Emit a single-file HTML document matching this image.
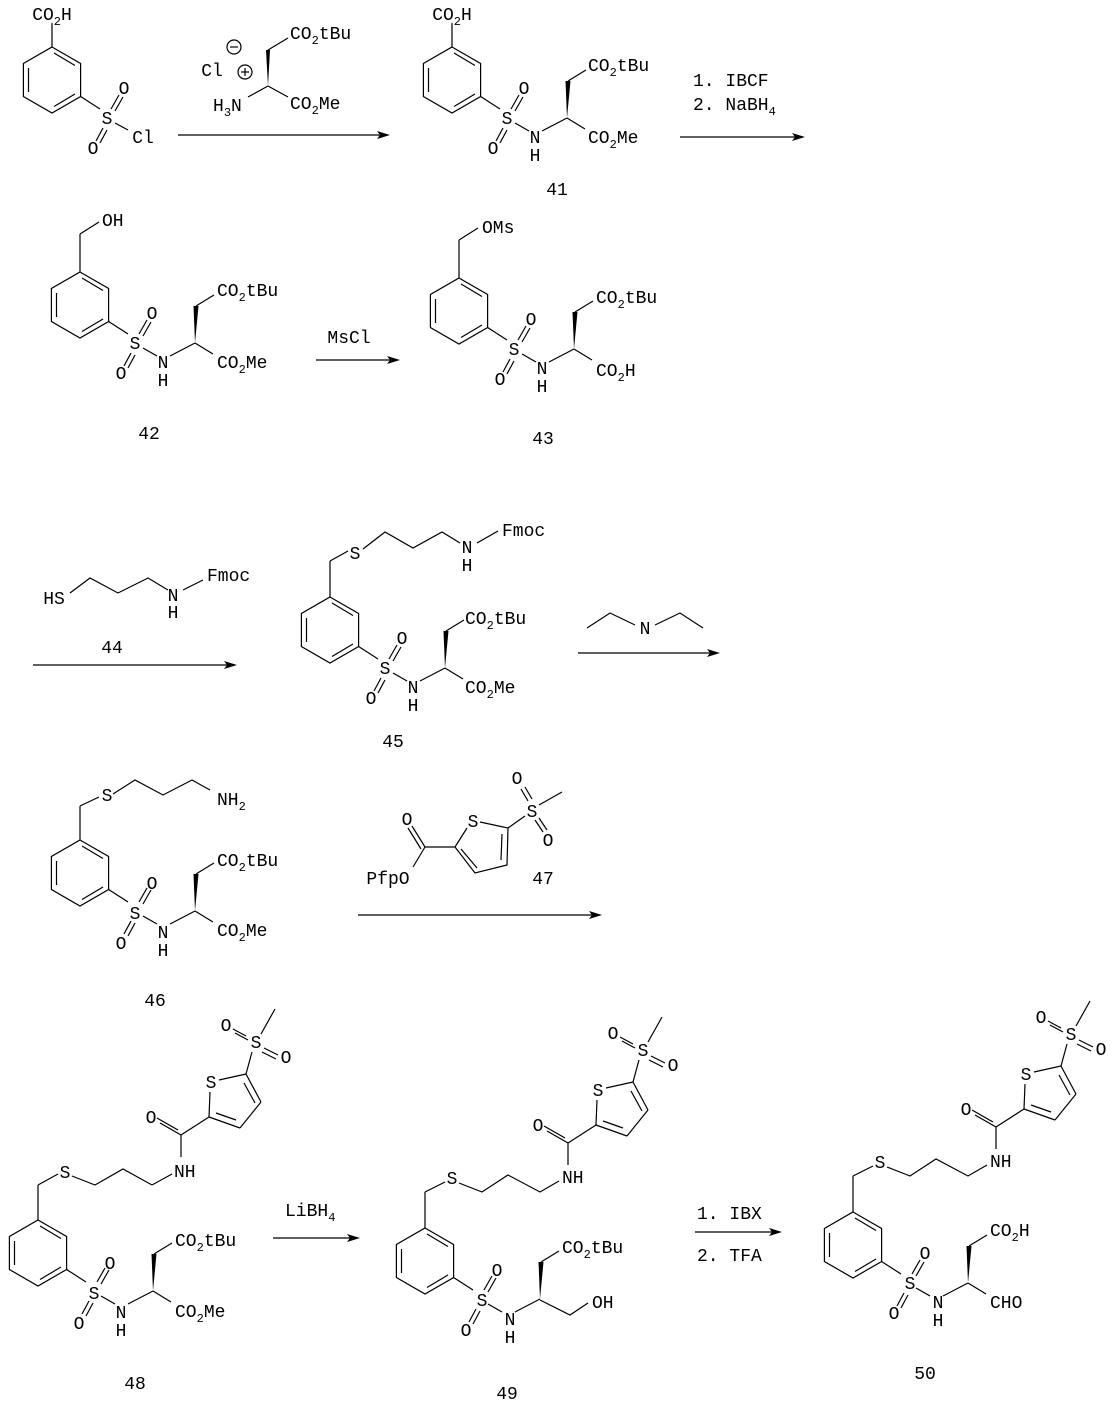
<!DOCTYPE html>
<html><head><meta charset="utf-8"><style>
html,body{margin:0;padding:0;background:#fff}
svg{display:block}
text{font-family:"Liberation Mono","DejaVu Sans Mono",monospace;font-size:18px;fill:#000}
.m{text-anchor:middle}
line,polyline,polygon.o{stroke:#000;stroke-width:1.2;fill:none}
.s{font-size:12px}
</style></head><body>
<svg width="1113" height="1406" viewBox="0 0 1113 1406" xmlns="http://www.w3.org/2000/svg">
<defs>
<g id="ar">
<polygon class="o" points="0,0 28.6,16.5 28.6,49.5 0,66 -28.6,49.5 -28.6,16.5"/>
<line x1="2" y1="6" x2="23" y2="18.5"/><line x1="23" y1="47" x2="2" y2="59.5"/><line x1="-23.5" y1="21" x2="-23.5" y2="45"/>
<line x1="28.6" y1="49.5" x2="48" y2="62"/>
<line x1="59" y1="62" x2="67" y2="48"/><line x1="63" y1="64" x2="71" y2="50"/>
<line x1="51" y1="81" x2="44" y2="94"/><line x1="55" y1="83" x2="48" y2="96"/>
</g>
<g id="am">
<line x1="63" y1="76" x2="77" y2="84"/><line x1="90" y1="84" x2="115" y2="71"/>
<polygon points="115,71 113.5,34 118.5,34" fill="#000"/>
<line x1="116" y1="34" x2="134" y2="23"/>
</g>
<g id="th">
<line x1="143" y1="-63" x2="143" y2="-85"/>
<line x1="143" y1="-85" x2="122" y2="-97"/><line x1="140" y1="-90" x2="119" y2="-102"/>
<line x1="143" y1="-85" x2="171" y2="-103"/>
<line x1="171" y1="-103" x2="172" y2="-128"/>
<line x1="181" y1="-140" x2="208" y2="-146"/>
<line x1="208" y1="-146" x2="223" y2="-118"/>
<line x1="223" y1="-118" x2="202" y2="-92"/>
<line x1="202" y1="-92" x2="171" y2="-103"/>
<line x1="178" y1="-107" x2="198" y2="-100"/>
<line x1="206" y1="-137" x2="217" y2="-117"/>
<line x1="208" y1="-146" x2="214" y2="-168"/>
<line x1="223" y1="-186" x2="237" y2="-211"/>
<line x1="210" y1="-180" x2="197" y2="-187"/><line x1="208" y1="-184" x2="195" y2="-191"/>
<line x1="226" y1="-172" x2="240" y2="-165"/><line x1="224" y1="-168" x2="238" y2="-161"/>
</g>
</defs>

<!-- SM -->
<g transform="translate(52,47)">
<use href="#ar"/>
<line x1="0" y1="0" x2="0" y2="-24"/>
<line x1="63" y1="76" x2="76" y2="83"/>
<text x="0" y="-27" class="m">CO<tspan class="s" dy="5">2</tspan><tspan dy="-5">H</tspan></text>
<text x="55" y="77" class="m">S</text><text x="72" y="47" class="m">O</text><text x="41" y="107" class="m">O</text>
<text x="91" y="96" class="m">Cl</text>
</g>
<text x="212" y="76" class="m">Cl</text>
<circle cx="234" cy="47" r="7" fill="none" stroke="#000" stroke-width="1.2"/><line x1="230" y1="47" x2="238" y2="47"/>
<circle cx="245" cy="72" r="7" fill="none" stroke="#000" stroke-width="1.2"/><line x1="241" y1="72" x2="249" y2="72"/><line x1="245" y1="68" x2="245" y2="76"/>
<polygon points="268,86 266,50 270,50" fill="#000"/>
<line x1="268" y1="50" x2="288" y2="38"/><line x1="268" y1="86" x2="248" y2="97"/><line x1="268" y1="86" x2="288" y2="97"/>
<text x="290" y="39">CO<tspan class="s" dy="5">2</tspan><tspan dy="-5">tBu</tspan></text>
<text x="290" y="109">CO<tspan class="s" dy="5">2</tspan><tspan dy="-5">Me</tspan></text>
<text x="213" y="111">H<tspan class="s" dy="5">3</tspan><tspan dy="-5">N</tspan></text>
<line x1="178" y1="135" x2="380" y2="135"/><polygon points="390,135 377,131 380,135 377,139" fill="#000"/>

<!-- 41 -->
<g transform="translate(452,47)">
<use href="#ar"/><use href="#am"/>
<line x1="115" y1="71" x2="133" y2="82"/>
<line x1="0" y1="0" x2="0" y2="-24"/>
<text x="0" y="-27" class="m">CO<tspan class="s" dy="5">2</tspan><tspan dy="-5">H</tspan></text>
<text x="55" y="77" class="m">S</text><text x="72" y="47" class="m">O</text><text x="41" y="107" class="m">O</text>
<text x="83" y="96" class="m">N</text><text x="83" y="114" class="m">H</text>
<text x="136" y="24">CO<tspan class="s" dy="5">2</tspan><tspan dy="-5">tBu</tspan></text>
<text x="136" y="96">CO<tspan class="s" dy="5">2</tspan><tspan dy="-5">Me</tspan></text>
</g>
<text x="557" y="195" class="m">41</text>
<text x="693" y="86">1. IBCF</text>
<text x="693" y="110">2. NaBH<tspan class="s" dy="5">4</tspan></text>
<line x1="680" y1="137" x2="795" y2="137"/><polygon points="805,137 792,133 795,137 792,141" fill="#000"/>

<!-- 42 -->
<g transform="translate(80,272)">
<use href="#ar"/><use href="#am"/>
<line x1="115" y1="71" x2="133" y2="82"/>
<line x1="0" y1="0" x2="0" y2="-38"/><line x1="0" y1="-38" x2="19" y2="-50"/>
<text x="22" y="-46">OH</text>
<text x="55" y="77" class="m">S</text><text x="72" y="47" class="m">O</text><text x="41" y="107" class="m">O</text>
<text x="83" y="96" class="m">N</text><text x="83" y="114" class="m">H</text>
<text x="137" y="24">CO<tspan class="s" dy="5">2</tspan><tspan dy="-5">tBu</tspan></text>
<text x="137" y="96">CO<tspan class="s" dy="5">2</tspan><tspan dy="-5">Me</tspan></text>
</g>
<text x="149" y="439" class="m">42</text>
<text x="349" y="343" class="m">MsCl</text>
<line x1="316" y1="360" x2="390" y2="360"/><polygon points="400,360 387,356 390,360 387,364" fill="#000"/>

<!-- 43 -->
<g transform="translate(459,278)">
<use href="#ar"/><use href="#am"/>
<line x1="115" y1="71" x2="133" y2="82"/>
<line x1="0" y1="0" x2="0" y2="-38"/><line x1="0" y1="-38" x2="19" y2="-50"/>
<text x="23" y="-45">OMs</text>
<text x="55" y="77" class="m">S</text><text x="72" y="47" class="m">O</text><text x="41" y="107" class="m">O</text>
<text x="83" y="96" class="m">N</text><text x="83" y="114" class="m">H</text>
<text x="137" y="25">CO<tspan class="s" dy="5">2</tspan><tspan dy="-5">tBu</tspan></text>
<text x="137" y="98">CO<tspan class="s" dy="5">2</tspan><tspan dy="-5">H</tspan></text>
</g>
<text x="543" y="444" class="m">43</text>

<!-- 44 -->
<text x="54" y="604" class="m">HS</text>
<polyline points="70,593 90,578 118,593 148,578 168,590"/>
<line x1="183" y1="590" x2="203" y2="580"/>
<text x="173" y="601" class="m">N</text><text x="173" y="618" class="m">H</text>
<text x="207" y="581">Fmoc</text>
<text x="112" y="653" class="m">44</text>
<line x1="33" y1="665" x2="227" y2="665"/><polygon points="237,665 224,661 227,665 224,669" fill="#000"/>

<!-- 45 -->
<g transform="translate(330,597)">
<use href="#ar"/><use href="#am"/>
<line x1="115" y1="71" x2="133" y2="82"/>
<line x1="0" y1="0" x2="0" y2="-36"/><line x1="0" y1="-36" x2="18" y2="-46"/>
<text x="25" y="-38" class="m">S</text>
<polyline points="33,-48 55,-65 83,-49 112,-65 130,-54"/>
<line x1="147" y1="-54" x2="168" y2="-66"/>
<text x="137" y="-44" class="m">N</text><text x="137" y="-26" class="m">H</text>
<text x="172" y="-61">Fmoc</text>
<text x="55" y="77" class="m">S</text><text x="72" y="47" class="m">O</text><text x="41" y="107" class="m">O</text>
<text x="83" y="96" class="m">N</text><text x="83" y="114" class="m">H</text>
<text x="135" y="27">CO<tspan class="s" dy="5">2</tspan><tspan dy="-5">tBu</tspan></text>
<text x="135" y="96">CO<tspan class="s" dy="5">2</tspan><tspan dy="-5">Me</tspan></text>
</g>
<text x="393" y="747" class="m">45</text>
<polyline points="587,628 610,613 635,625"/><polyline points="655,625 680,613 703,628"/>
<text x="645" y="634" class="m">N</text>
<line x1="578" y1="653" x2="710" y2="653"/><polygon points="720,653 707,649 710,653 707,657" fill="#000"/>

<!-- 46 -->
<g transform="translate(80,840)">
<use href="#ar"/><use href="#am"/>
<line x1="115" y1="71" x2="133" y2="82"/>
<line x1="0" y1="0" x2="0" y2="-34"/><line x1="0" y1="-34" x2="19" y2="-43"/>
<text x="27" y="-39" class="m">S</text>
<polyline points="33,-46 55,-60 83,-45 112,-60 130,-50"/>
<text x="137" y="-35">NH<tspan class="s" dy="5">2</tspan></text>
<text x="55" y="79" class="m">S</text><text x="72" y="49" class="m">O</text><text x="41" y="109" class="m">O</text>
<text x="83" y="98" class="m">N</text><text x="83" y="116" class="m">H</text>
<text x="137" y="26">CO<tspan class="s" dy="5">2</tspan><tspan dy="-5">tBu</tspan></text>
<text x="137" y="96">CO<tspan class="s" dy="5">2</tspan><tspan dy="-5">Me</tspan></text>
</g>
<text x="155" y="1006" class="m">46</text>
<!-- 47 -->
<line x1="425" y1="847" x2="412" y2="826"/><line x1="421" y1="849" x2="408" y2="828"/>
<line x1="425" y1="847" x2="413" y2="867"/>
<polyline points="425,847 455,847 467,828"/>
<polyline points="480,822 508,828 507,865 475,873 455,847"/>
<line x1="461" y1="849" x2="477" y2="868"/><line x1="502" y1="834" x2="501" y2="860"/>
<line x1="508" y1="828" x2="525" y2="816"/>
<line x1="528" y1="801" x2="521" y2="789"/><line x1="532" y1="799" x2="525" y2="787"/>
<line x1="535" y1="820" x2="543" y2="832"/><line x1="539" y1="818" x2="547" y2="830"/>
<line x1="539" y1="805" x2="562" y2="792"/>
<text x="407" y="825" class="m">O</text><text x="473" y="827" class="m">S</text>
<text x="532" y="817" class="m">S</text><text x="517" y="784" class="m">O</text><text x="548" y="846" class="m">O</text>
<text x="388" y="884" class="m">PfpO</text><text x="543" y="884" class="m">47</text>
<line x1="358" y1="915" x2="592" y2="915"/><polygon points="602,915 589,911 592,915 589,919" fill="#000"/>

<!-- 48 -->
<g transform="translate(38,1220)">
<use href="#ar"/><use href="#am"/><use href="#th"/>
<line x1="115" y1="71" x2="133" y2="82"/>
<line x1="0" y1="0" x2="0" y2="-35"/><line x1="0" y1="-35" x2="20" y2="-46"/>
<text x="27" y="-42" class="m">S</text>
<polyline points="34,-44 57,-35 85,-51 114,-35 134,-46"/>
<text x="136" y="-43">NH</text>
<text x="113" y="-97" class="m">O</text><text x="173" y="-132" class="m">S</text>
<text x="218" y="-172" class="m">S</text><text x="188" y="-189" class="m">O</text><text x="248" y="-157" class="m">O</text>
<text x="56" y="79" class="m">S</text><text x="72" y="49" class="m">O</text><text x="41" y="109" class="m">O</text>
<text x="83" y="98" class="m">N</text><text x="83" y="116" class="m">H</text>
<text x="137" y="26">CO<tspan class="s" dy="5">2</tspan><tspan dy="-5">tBu</tspan></text>
<text x="137" y="97">CO<tspan class="s" dy="5">2</tspan><tspan dy="-5">Me</tspan></text>
</g>
<text x="135" y="1389" class="m">48</text>
<text x="285" y="1216">LiBH<tspan class="s" dy="5">4</tspan></text>
<line x1="273" y1="1238" x2="350" y2="1238"/><polygon points="360,1238 347,1234 350,1238 347,1242" fill="#000"/>

<!-- 49 -->
<g transform="translate(425,1228)">
<use href="#ar"/><use href="#am"/><use href="#th"/>
<polyline points="115,72 145,87 163,75"/>
<line x1="0" y1="0" x2="0" y2="-36"/><line x1="0" y1="-36" x2="20" y2="-46"/>
<text x="27" y="-44" class="m">S</text>
<polyline points="34,-45 57,-36 83,-53 115,-36 134,-47"/>
<text x="137" y="-45">NH</text>
<text x="113" y="-97" class="m">O</text><text x="173" y="-132" class="m">S</text>
<text x="218" y="-172" class="m">S</text><text x="188" y="-189" class="m">O</text><text x="248" y="-157" class="m">O</text>
<text x="57" y="78" class="m">S</text><text x="72" y="48" class="m">O</text><text x="41" y="108" class="m">O</text>
<text x="85" y="97" class="m">N</text><text x="85" y="115" class="m">H</text>
<text x="137" y="25">CO<tspan class="s" dy="5">2</tspan><tspan dy="-5">tBu</tspan></text>
<text x="167" y="80">OH</text>
</g>
<text x="507" y="1399" class="m">49</text>
<text x="697" y="1219">1. IBX</text>
<text x="697" y="1261">2. TFA</text>
<line x1="695" y1="1232" x2="772" y2="1232"/><polygon points="782,1232 769,1228 772,1232 769,1236" fill="#000"/>

<!-- 50 -->
<g transform="translate(853,1212)">
<use href="#ar"/><use href="#am"/><use href="#th"/>
<line x1="115" y1="71" x2="133" y2="82"/>
<line x1="0" y1="0" x2="0" y2="-36"/><line x1="0" y1="-36" x2="20" y2="-46"/>
<text x="27" y="-44" class="m">S</text>
<polyline points="34,-45 57,-36 83,-53 115,-36 134,-47"/>
<text x="137" y="-45">NH</text>
<text x="113" y="-97" class="m">O</text><text x="173" y="-132" class="m">S</text>
<text x="218" y="-172" class="m">S</text><text x="188" y="-189" class="m">O</text><text x="248" y="-157" class="m">O</text>
<text x="57" y="77" class="m">S</text><text x="72" y="47" class="m">O</text><text x="41" y="107" class="m">O</text>
<text x="85" y="96" class="m">N</text><text x="85" y="114" class="m">H</text>
<text x="137" y="24">CO<tspan class="s" dy="5">2</tspan><tspan dy="-5">H</tspan></text>
<text x="137" y="96">CHO</text>
</g>
<text x="925" y="1379" class="m">50</text>
</svg>
</body></html>
